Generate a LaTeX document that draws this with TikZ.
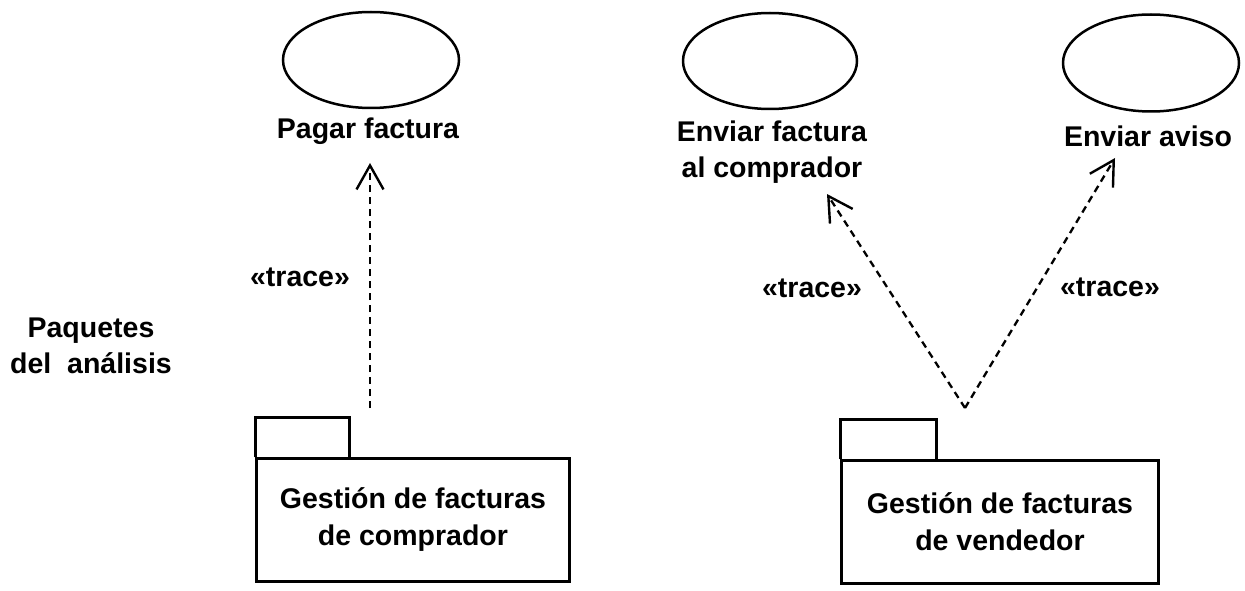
\documentclass[tikz,border=0pt]{standalone}
\usepackage{fontspec}
\setmainfont{Liberation Sans}
\usetikzlibrary{shapes.geometric,arrows.meta}
\begin{document}
\begin{tikzpicture}[x=1pt,y=-1pt,
  uc/.style={draw,ellipse,line width=2.5pt,inner sep=0pt},
  lbl/.style={font=\bfseries\fontsize{28.5}{36}\selectfont,align=center,inner sep=0pt},
  pkg/.style={draw,line width=2.5pt,inner sep=0pt,font=\bfseries\fontsize{28.5}{37}\selectfont,align=center},
  tab/.style={draw,line width=2.5pt},
  trace/.style={line width=2.3pt,dash pattern=on 7pt off 5pt,-{Straight Barb[length=24pt,width=27pt,line width=2.4pt]}}]
\useasboundingbox (0,0) rectangle (1245,591);
% use cases
\node[uc,minimum width=176pt,minimum height=96pt] (e1) at (371,60) {};
\node[uc,minimum width=174pt,minimum height=96pt] (e2) at (770,61) {};
\node[uc,minimum width=176pt,minimum height=97pt] (e3) at (1151,63) {};
\node[lbl] (l1) at (368,131) {Pagar factura};
\node[lbl] (l2) at (772,152) {Enviar factura\\al comprador};
\node[lbl] (l3) at (1148,136) {Enviar aviso};
% packages
\node[pkg,minimum width=313pt,minimum height=123pt] (p1) at (413,520) {Gestión de facturas\\de comprador};
\draw[tab] (p1.north west) -- ++(0,-40) -| ([xshift=94pt]p1.north west) coordinate (t1);
\node[pkg,minimum width=317pt,minimum height=123pt] (p2) at (1000,522) {Gestión de facturas\\de vendedor};
\draw[tab] (p2.north west) -- ++(0,-40) -| ([xshift=96pt]p2.north west) coordinate (t2);
% side label
\node[lbl] (side) at (91,346) {Paquetes\\del\ \ análisis};
% trace dependencies
\coordinate (s1) at (370,408);
\coordinate (a1) at (370,163);
\coordinate (s2) at (965,408);
\coordinate (a2) at (827,194);
\coordinate (a3) at (1115,158);
\draw[trace] (s1) -- (a1);
\draw[trace] (s2) -- (a2);
\draw[trace] (s2) -- (a3);
\node[lbl] (tr1) at (300,277) {«trace»};
\node[lbl] (tr2) at (812,288) {«trace»};
\node[lbl] (tr3) at (1110,287) {«trace»};
\end{tikzpicture}
\end{document}
